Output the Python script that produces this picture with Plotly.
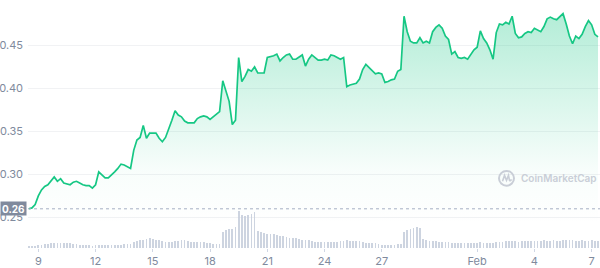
import pandas as pd
import plotly.graph_objects as go

# ---------------- data ----------------
start_time = "2022-01-08 12:00"
step = "4h"

prices = [
    0.260, 0.261, 0.265, 0.275, 0.282, 0.286, 0.288, 0.292, 0.297, 0.292,
    0.295, 0.290, 0.289, 0.288, 0.291, 0.292, 0.290, 0.288, 0.287, 0.287,
    0.284, 0.288, 0.303, 0.300, 0.296, 0.296, 0.299, 0.303, 0.307, 0.312,
    0.311, 0.309, 0.307, 0.328, 0.340, 0.343, 0.357, 0.342, 0.348, 0.348,
    0.348, 0.342, 0.338, 0.343, 0.352, 0.363, 0.374, 0.369, 0.367, 0.362,
    0.360, 0.360, 0.360, 0.365, 0.367, 0.368, 0.367, 0.364, 0.367, 0.370,
    0.373, 0.409, 0.396, 0.385, 0.358, 0.363, 0.436, 0.408, 0.414, 0.422,
    0.420, 0.425, 0.418, 0.418, 0.418, 0.436, 0.437, 0.438, 0.440, 0.432,
    0.436, 0.439, 0.440, 0.434, 0.434, 0.437, 0.439, 0.426, 0.434, 0.439,
    0.436, 0.433, 0.433, 0.434, 0.433, 0.439, 0.438, 0.436, 0.434, 0.436,
    0.402, 0.404, 0.405, 0.406, 0.411, 0.422, 0.428, 0.424, 0.420, 0.417,
    0.418, 0.417, 0.407, 0.408, 0.410, 0.411, 0.420, 0.422, 0.484, 0.466,
    0.455, 0.453, 0.453, 0.459, 0.453, 0.455, 0.453, 0.466, 0.471, 0.474,
    0.470, 0.461, 0.457, 0.440, 0.443, 0.436, 0.435, 0.436, 0.434, 0.440,
    0.445, 0.448, 0.467, 0.458, 0.453, 0.445, 0.434, 0.465, 0.475, 0.474,
    0.477, 0.475, 0.484, 0.464, 0.459, 0.460, 0.464, 0.466, 0.465, 0.470,
    0.468, 0.466, 0.472, 0.481, 0.483, 0.481, 0.480, 0.483, 0.487, 0.475,
    0.461, 0.452, 0.461, 0.458, 0.463, 0.472, 0.479, 0.474, 0.463, 0.460,
]

volumes = [
    1.6, 1.8, 2.0, 2.6, 2.9, 4.0, 4.4, 4.6,
    5.2, 5.5, 5.3, 5.4, 5.0, 4.8, 3.8, 3.6, 3.4,
    2.8, 2.6, 2.7, 2.5, 2.6, 2.9, 2.7, 2.8, 3.0, 2.9, 3.1, 3.3, 3.2,
    3.6, 3.9, 4.2, 6.0, 7.2, 7.8, 8.4, 9.0, 10.2, 9.6,
    8.0, 7.6, 7.2, 6.2, 5.8, 6.0, 6.6, 7.4, 7.9, 7.6, 7.0,
    6.3, 6.0, 5.8, 6.1, 5.6, 5.2, 4.6, 4.2, 4.4, 4.0,
    16.5, 18.0, 19.0, 19.6, 21.5, 37.8, 33.5, 32.0, 33.8, 34.6, 36.8,
    17.0, 15.8, 14.8, 14.2, 14.5, 13.8, 13.0, 12.6, 12.2,
    11.2, 10.6, 10.4, 10.0, 9.6, 8.6, 8.4, 8.0, 7.4,
    6.2, 5.8, 6.0, 5.9, 6.3, 6.1, 5.7, 6.4,
    7.0, 7.4, 7.6, 7.2, 7.5, 7.0, 6.8, 6.2,
    5.2, 5.0, 4.7, 4.8,
    3.6, 3.4, 3.2, 3.3, 3.0, 3.4, 3.6, 4.0,
    16.5, 18.4, 19.2, 20.2, 21.0, 20.4, 9.0, 8.2,
    7.0, 6.8, 6.6, 6.4, 6.2, 6.0, 5.8,
    5.4, 5.0, 5.2, 4.8, 5.0, 4.7, 5.1, 4.9, 5.2, 5.6, 5.3, 5.0, 4.9, 5.4, 5.8, 6.0,
    6.4, 6.8, 6.6, 7.0, 6.9, 6.5, 6.8, 7.2, 7.0, 6.9,
    7.2, 7.4, 7.0, 7.6, 7.3, 7.5, 7.8, 7.4, 7.2, 7.6, 7.9, 8.0, 7.7, 7.3, 7.5,
    7.8, 7.4, 7.1, 7.6, 7.3, 7.5,
]

x_tick_dates = ["2022-01-09", "2022-01-12", "2022-01-15", "2022-01-18", "2022-01-21",
                "2022-01-24", "2022-01-27", "2022-02-01", "2022-02-04", "2022-02-07"]
x_tick_labels = ["9", "12", "15", "18", "21", "24", "27", "Feb", "4", "7"]
y_tick_vals = [0.25, 0.30, 0.35, 0.40, 0.45]
y_tick_labels = ["0.25", "0.30", "0.35", "0.40", "0.45"]
start_price_label = "0.26"
watermark = "CoinMarketCap"

times = pd.date_range(start_time, periods=len(prices), freq=step)

# ---------------- styling ----------------
GREEN = "#16c784"
GREY_TXT = "#808a9d"
FONT = "Inter"

W, H = 600, 268
ML, MR, MT, MB = 28, 0, 0, 17
PW, PH = W - ML - MR, H - MT - MB


def px_x(px):
    return (px - ML) / PW


def px_y(py):
    return (H - MB - py) / PH


fig = go.Figure()

fig.add_trace(go.Scatter(
    x=times, y=prices, mode="lines",
    line=dict(color=GREEN, width=1.7),
    fill="tozeroy",
    fillgradient=dict(
        type="vertical",
        colorscale=[[0, "rgba(22,199,132,0.0)"], [0.25, "rgba(22,199,132,0.03)"],
                    [1, "rgba(22,199,132,0.33)"]],
        start=0.245, stop=0.49,
    ),
    hoverinfo="skip", showlegend=False,
))

fig.add_trace(go.Bar(
    x=times, y=volumes, yaxis="y2",
    marker=dict(color="rgba(196,204,219,0.85)", line=dict(width=0)),
    width=4 * 3600 * 1000 * 0.55,
    hoverinfo="skip", showlegend=False,
))

# dotted line at the opening price
fig.add_shape(type="line", xref="paper", x0=0, x1=1, yref="y",
              y0=prices[0], y1=prices[0],
              line=dict(color="#a6b0c3", width=1, dash="dot"))

# price label box
fig.add_annotation(xref="paper", x=px_x(0), xanchor="left", yref="y", y=prices[0],
                   yanchor="middle", text="<b>" + start_price_label + "</b>",
                   showarrow=False, bgcolor="#808a9d", borderpad=1, width=23, height=11,
                   font=dict(family=FONT, size=10, color="white"))

# watermark
fig.add_annotation(xref="paper", yref="paper", x=px_x(519), y=px_y(180.5),
                   xanchor="left", yanchor="middle", text=watermark, showarrow=False,
                   font=dict(family=FONT, size=10, color="#c9ced7", weight=600))
cx, cy, r = 506.5, 180.5, 7.5
fig.add_shape(type="circle", xref="paper", yref="paper",
              x0=px_x(cx - r), x1=px_x(cx + r), y0=px_y(cy + r), y1=px_y(cy - r),
              line=dict(color="#c9ced7", width=2))
fig.add_shape(type="path", xref="paper", yref="paper",
              path=("M {} {} L {} {} L {} {} L {} {} L {} {} Q {} {} {} {}".format(
                  px_x(cx - 4), px_y(cy + 3), px_x(cx - 2), px_y(cy - 3),
                  px_x(cx), px_y(cy + 2), px_x(cx + 2), px_y(cy - 3),
                  px_x(cx + 3), px_y(cy + 2), px_x(cx + 4), px_y(cy + 3),
                  px_x(cx + 5), px_y(cy + 1))),
              line=dict(color="#c9ced7", width=1.6))

fig.update_layout(
    width=W, height=H,
    margin=dict(l=ML, r=MR, t=MT, b=MB),
    paper_bgcolor="white", plot_bgcolor="white",
    bargap=0,
    xaxis=dict(
        range=["2022-01-08 11:00", "2022-02-07 10:30"],
        tickvals=x_tick_dates, ticktext=x_tick_labels,
        showgrid=False, zeroline=False, showline=False,
        ticks="outside", ticklen=3, tickcolor="#cfd6e4",
        tickfont=dict(family=FONT, size=11, color=GREY_TXT),
        fixedrange=True,
    ),
    yaxis=dict(
        range=[0.2144, 0.5029],
        tickvals=y_tick_vals, ticktext=y_tick_labels,
        showgrid=True, gridcolor="#f1f2f4", gridwidth=1,
        zeroline=False, showline=False, ticks="",
        ticklabelstandoff=4,
        tickfont=dict(family=FONT, size=11, color=GREY_TXT),
        automargin=False,
    ),
    yaxis2=dict(
        overlaying="y", range=[0, 251], visible=False,
    ),
)

fig.write_html("out.html")
